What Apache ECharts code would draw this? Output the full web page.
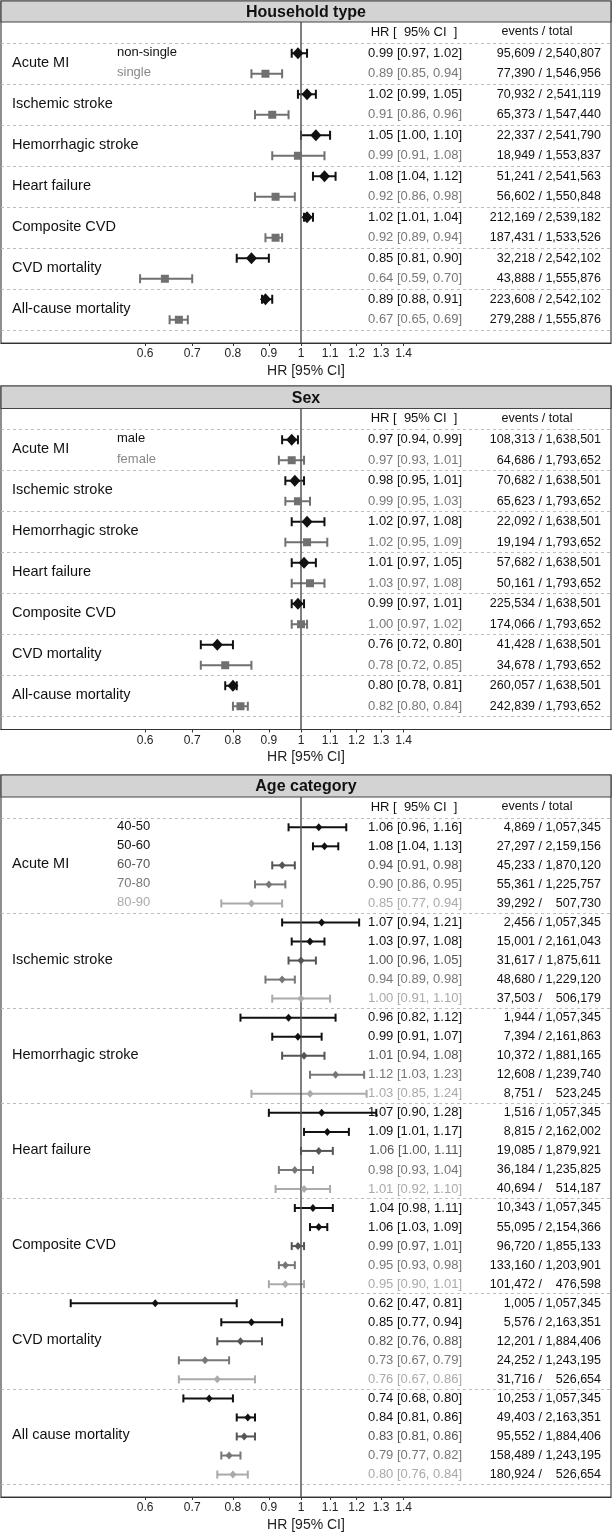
<!DOCTYPE html>
<html><head><meta charset="utf-8">
<script src="https://cdn.jsdelivr.net/npm/echarts@6/dist/echarts.min.js"></script>
<style>html,body{margin:0;padding:0;background:#fff}#c{width:612px;height:1533px}</style>
</head><body><div id="c"></div>
<script>
// ---------------- data ----------------
const outcomesA = ['Acute MI','Ischemic stroke','Hemorrhagic stroke','Heart failure','Composite CVD','CVD mortality','All-cause mortality'];
const outcomesB = ['Acute MI','Ischemic stroke','Hemorrhagic stroke','Heart failure','Composite CVD','CVD mortality','All cause mortality'];
const tickValues = [0.6,0.7,0.8,0.9,1,1.1,1.2,1.3,1.4];

const hhGroups = ['non-single','single'];
const hhHR = [[0.99,1.02,1.05,1.08,1.02,0.85,0.89],[0.89,0.91,0.99,0.92,0.92,0.64,0.67]];
const hhLo = [[0.97,0.99,1.00,1.04,1.01,0.81,0.88],[0.85,0.86,0.91,0.86,0.89,0.59,0.65]];
const hhHi = [[1.02,1.05,1.10,1.12,1.04,0.90,0.91],[0.94,0.96,1.08,0.98,0.94,0.70,0.69]];
const hhEvents = [[95609,70932,22337,51241,212169,32218,223608],[77390,65373,18949,56602,187431,43888,279288]];
const hhTotal = [[2540807,2541119,2541790,2541563,2539182,2542102,2542102],[1546956,1547440,1553837,1550848,1533526,1555876,1555876]];

const sexGroups = ['male','female'];
const sexHR = [[0.97,0.98,1.02,1.01,0.99,0.76,0.80],[0.97,0.99,1.02,1.03,1.00,0.78,0.82]];
const sexLo = [[0.94,0.95,0.97,0.97,0.97,0.72,0.78],[0.93,0.95,0.95,0.97,0.97,0.72,0.80]];
const sexHi = [[0.99,1.01,1.08,1.05,1.01,0.80,0.81],[1.01,1.03,1.09,1.08,1.02,0.85,0.84]];
const sexEvents = [[108313,70682,22092,57682,225534,41428,260057],[64686,65623,19194,50161,174066,34678,242839]];
const sexTotal = [[1638501,1638501,1638501,1638501,1638501,1638501,1638501],[1793652,1793652,1793652,1793652,1793652,1793652,1793652]];

const ageGroups = ['40-50','50-60','60-70','70-80','80-90'];
const ageHR = [
  [1.06,1.07,0.96,1.07,1.04,0.62,0.74],
  [1.08,1.03,0.99,1.09,1.06,0.85,0.84],
  [0.94,1.00,1.01,1.06,0.99,0.82,0.83],
  [0.90,0.94,1.12,0.98,0.95,0.73,0.79],
  [0.85,1.00,1.03,1.01,0.95,0.76,0.80]];
const ageLo = [
  [0.96,0.94,0.82,0.90,0.98,0.47,0.68],
  [1.04,0.97,0.91,1.01,1.03,0.77,0.81],
  [0.91,0.96,0.94,1.00,0.97,0.76,0.81],
  [0.86,0.89,1.03,0.93,0.93,0.67,0.77],
  [0.77,0.91,0.85,0.92,0.90,0.67,0.76]];
const ageHi = [
  [1.16,1.21,1.12,1.28,1.11,0.81,0.80],
  [1.13,1.08,1.07,1.17,1.09,0.94,0.86],
  [0.98,1.05,1.08,1.11,1.01,0.88,0.86],
  [0.95,0.98,1.23,1.04,0.98,0.79,0.82],
  [0.94,1.10,1.24,1.10,1.01,0.86,0.84]];
const ageEvents = [
  [4869,2456,1944,1516,10343,1005,10253],
  [27297,15001,7394,8815,55095,5576,49403],
  [45233,31617,10372,19085,96720,12201,95552],
  [55361,48680,12608,36184,133160,24252,158489],
  [39292,37503,8751,40694,101472,31716,180924]];
const ageTotal = [
  [1057345,1057345,1057345,1057345,1057345,1057345,1057345],
  [2159156,2161043,2161863,2162002,2154366,2163351,2163351],
  [1870120,1875611,1881165,1879921,1855133,1884406,1884406],
  [1225757,1229120,1239740,1235825,1203901,1243195,1243195],
  [507730,506179,523245,514187,476598,526654,526654]];

// ---------------- layout / style ----------------
const FAM = 'Liberation Sans, Arial, sans-serif';
const X_REF = 301, PX_PER_LN = 305, GRID_LEFT = 1, GRID_WIDTH = 610;
const X_MIN = (GRID_LEFT - X_REF) / PX_PER_LN, X_MAX = (GRID_LEFT + GRID_WIDTH - X_REF) / PX_PER_LN;
const COL_OUTCOME = 12, COL_SUB = 117, COL_HR_R = 462, COL_SLASH_R = 542, COL_TOT_R = 601;
const COL_HR_HEAD = 414, COL_EV_HEAD = 537;
const FONT_HR = '13px ' + FAM, FONT_EV = '12.5px ' + FAM;

const panels = [
  {title:'Household type', top:1, sep0:43, unit:20.5, outcomes:outcomesA, groups:hhGroups,
   hr:hhHR, lo:hhLo, hi:hhHi, ev:hhEvents, tot:hhTotal,
   colors:['#111','#707070'], textColors:['#111','#777'], subColors:['#111','#888'],
   symbols:['diamond','rect'], sizes:[[11,12],[8,8]], lw:2, cap:9},
  {title:'Sex', top:386, sep0:429.5, unit:20.5, outcomes:outcomesA, groups:sexGroups,
   hr:sexHR, lo:sexLo, hi:sexHi, ev:sexEvents, tot:sexTotal,
   colors:['#111','#707070'], textColors:['#111','#777'], subColors:['#111','#888'],
   symbols:['diamond','rect'], sizes:[[11,12],[8,8]], lw:2, cap:9},
  {title:'Age category', top:775, sep0:818, unit:19.14, outcomes:outcomesB, groups:ageGroups,
   hr:ageHR, lo:ageLo, hi:ageHi, ev:ageEvents, tot:ageTotal,
   colors:['#111','#111','#555','#777','#aaa'], textColors:['#111','#111','#555','#777','#aaa'], subColors:['#111','#111','#555','#777','#aaa'],
   symbols:['diamond','diamond','diamond','diamond','diamond'], sizes:[[7,8],[7,8],[7,8],[7,8],[7,8]], lw:2, cap:8}
];

const fmt = n => n.toLocaleString('en-US');
const f2 = v => v.toFixed(2);

const grids = [], xAxes = [], yAxes = [], series = [], graphics = [];

panels.forEach((P, i) => {
  const n = P.groups.length;
  const nRows = P.outcomes.length * n;
  const lastSep = P.sep0 + nRows * P.unit;
  const bottom = lastSep + 13;
  const titleBottom = P.sep0 - 21;
  grids.push({left: GRID_LEFT, width: GRID_WIDTH, top: P.top, height: bottom - P.top,
    show: true, borderColor: '#444', borderWidth: 1.2, backgroundColor: '#fff'});
  xAxes.push({gridIndex: i, type: 'value', min: X_MIN, max: X_MAX,
    axisLine: {show: true, onZero: false, lineStyle: {color: '#333', width: 1.2}},
    axisTick: {show: true, customValues: tickValues.map(Math.log), length: 3, lineStyle: {color: '#333'}},
    axisLabel: {customValues: tickValues.map(Math.log), formatter: v => String(Math.round(Math.exp(v) * 10) / 10),
      fontSize: 12, color: '#222', margin: 5, fontFamily: FAM},
    splitLine: {show: false},
    name: 'HR [95% CI]', nameLocation: 'middle', nameGap: 21,
    nameTextStyle: {fontSize: 14, color: '#222', fontFamily: FAM}});
  yAxes.push({gridIndex: i, type: 'value', inverse: true,
    min: (P.top - P.sep0) / P.unit, max: (bottom - P.sep0) / P.unit, show: false});

  const rowY = (g, k) => g * n + k + 0.5;
  const seps = [];
  for (let g = 0; g <= P.outcomes.length; g++) seps.push(g * n);

  // outcome labels + separators + reference line
  series.push({type: 'custom', xAxisIndex: i, yAxisIndex: i, z: 3,
    data: P.outcomes.map((o, g) => [0, g * n + n / 2]),
    encode: {x: 0, y: 1},
    renderItem: (params, api) => {
      const p = api.coord([0, api.value(1)]);
      return {type: 'text', x: COL_OUTCOME, y: p[1] - 1,
        style: {text: P.outcomes[params.dataIndex], fill: '#111', font: '14.5px ' + FAM,
          align: 'left', verticalAlign: 'middle', textAlign: 'left', textVerticalAlign: 'middle'}};
    },
    markLine: {silent: true, symbol: ['none', 'none'], label: {show: false}, animation: false,
      data: seps.map(v => ({yAxis: v, lineStyle: {color: '#bdbdbd', type: [3, 3], width: 1}}))
        .concat([{xAxis: 0, lineStyle: {color: '#555', type: 'solid', width: 1.5}}])}
  });
  // subgroup labels
  series.push({type: 'custom', xAxisIndex: i, yAxisIndex: i, z: 3,
    data: P.groups.map((s, k) => [0, rowY(0, k)]),
    encode: {x: 0, y: 1},
    renderItem: (params, api) => {
      const p = api.coord([0, api.value(1)]);
      return {type: 'text', x: COL_SUB, y: p[1] - 1,
        style: {text: P.groups[params.dataIndex], fill: P.subColors[params.dataIndex], font: '13px ' + FAM,
          align: 'left', verticalAlign: 'middle', textAlign: 'left', textVerticalAlign: 'middle'}};
    }
  });

  P.groups.forEach((s, k) => {
    const col = P.colors[k];
    // CI bars
    series.push({type: 'custom', xAxisIndex: i, yAxisIndex: i, z: 4,
      data: P.outcomes.map((o, g) => [Math.log(P.lo[k][g]), Math.log(P.hi[k][g]), rowY(g, k)]),
      encode: {x: [0, 1], y: 2},
      renderItem: (params, api) => {
        const a = api.coord([api.value(0), api.value(2)]);
        const b = api.coord([api.value(1), api.value(2)]);
        const h = P.cap / 2;
        const st = {stroke: col, lineWidth: P.lw};
        return {type: 'group', children: [
          {type: 'line', shape: {x1: a[0], y1: a[1], x2: b[0], y2: b[1]}, style: st},
          {type: 'line', shape: {x1: a[0], y1: a[1] - h, x2: a[0], y2: a[1] + h}, style: st},
          {type: 'line', shape: {x1: b[0], y1: b[1] - h, x2: b[0], y2: b[1] + h}, style: st}
        ]};
      }
    });
    // point estimates
    series.push({type: 'scatter', xAxisIndex: i, yAxisIndex: i, z: 5,
      symbol: P.symbols[k], symbolSize: P.sizes[k],
      itemStyle: {color: col, opacity: 1},
      data: P.outcomes.map((o, g) => [Math.log(P.hr[k][g]), rowY(g, k)])
    });
    // text columns
    series.push({type: 'custom', xAxisIndex: i, yAxisIndex: i, z: 3,
      data: P.outcomes.map((o, g) => [0, rowY(g, k)]),
      encode: {x: 0, y: 1},
      renderItem: (params, api) => {
        const g = params.dataIndex;
        const y = api.coord([0, api.value(1)])[1];
        const base = {verticalAlign: 'middle', textVerticalAlign: 'middle', align: 'right', textAlign: 'right'};
        return {type: 'group', children: [
          {type: 'text', x: COL_HR_R, y: y, style: Object.assign({
            text: f2(P.hr[k][g]) + ' [' + f2(P.lo[k][g]) + ', ' + f2(P.hi[k][g]) + ']',
            fill: P.textColors[k], font: FONT_HR}, base)},
          {type: 'text', x: COL_SLASH_R, y: y, style: Object.assign({
            text: fmt(P.ev[k][g]) + ' /', fill: '#111', font: FONT_EV}, base)},
          {type: 'text', x: COL_TOT_R, y: y, style: Object.assign({
            text: fmt(P.tot[k][g]), fill: '#111', font: FONT_EV}, base)}
        ]};
      }
    });
  });

  // title bar and header
  graphics.push({type: 'rect', z: 100, shape: {x: GRID_LEFT, y: P.top, width: GRID_WIDTH, height: titleBottom - P.top},
    style: {fill: '#d3d3d3', stroke: '#444', lineWidth: 1.2}});
  graphics.push({type: 'text', z: 101, x: GRID_LEFT + GRID_WIDTH / 2, y: (P.top + titleBottom) / 2 + 1,
    style: {text: P.title, fill: '#111', font: 'bold 16px ' + FAM, textAlign: 'center', textVerticalAlign: 'middle', align: 'center', verticalAlign: 'middle'}});
  graphics.push({type: 'text', z: 101, x: COL_HR_HEAD, y: P.sep0 - 11,
    style: {text: 'HR [  95% CI  ]', fill: '#111', font: FONT_HR, textAlign: 'center', textVerticalAlign: 'middle', align: 'center', verticalAlign: 'middle'}});
  graphics.push({type: 'text', z: 101, x: COL_EV_HEAD, y: P.sep0 - 11,
    style: {text: 'events / total', fill: '#111', font: FONT_EV, textAlign: 'center', textVerticalAlign: 'middle', align: 'center', verticalAlign: 'middle'}});
});

const chart = echarts.init(document.getElementById('c'), null, {renderer: 'canvas'});
chart.setOption({
  animation: false,
  textStyle: {fontFamily: FAM},
  grid: grids, xAxis: xAxes, yAxis: yAxes, series: series,
  graphic: graphics
});
</script>
</body></html>
